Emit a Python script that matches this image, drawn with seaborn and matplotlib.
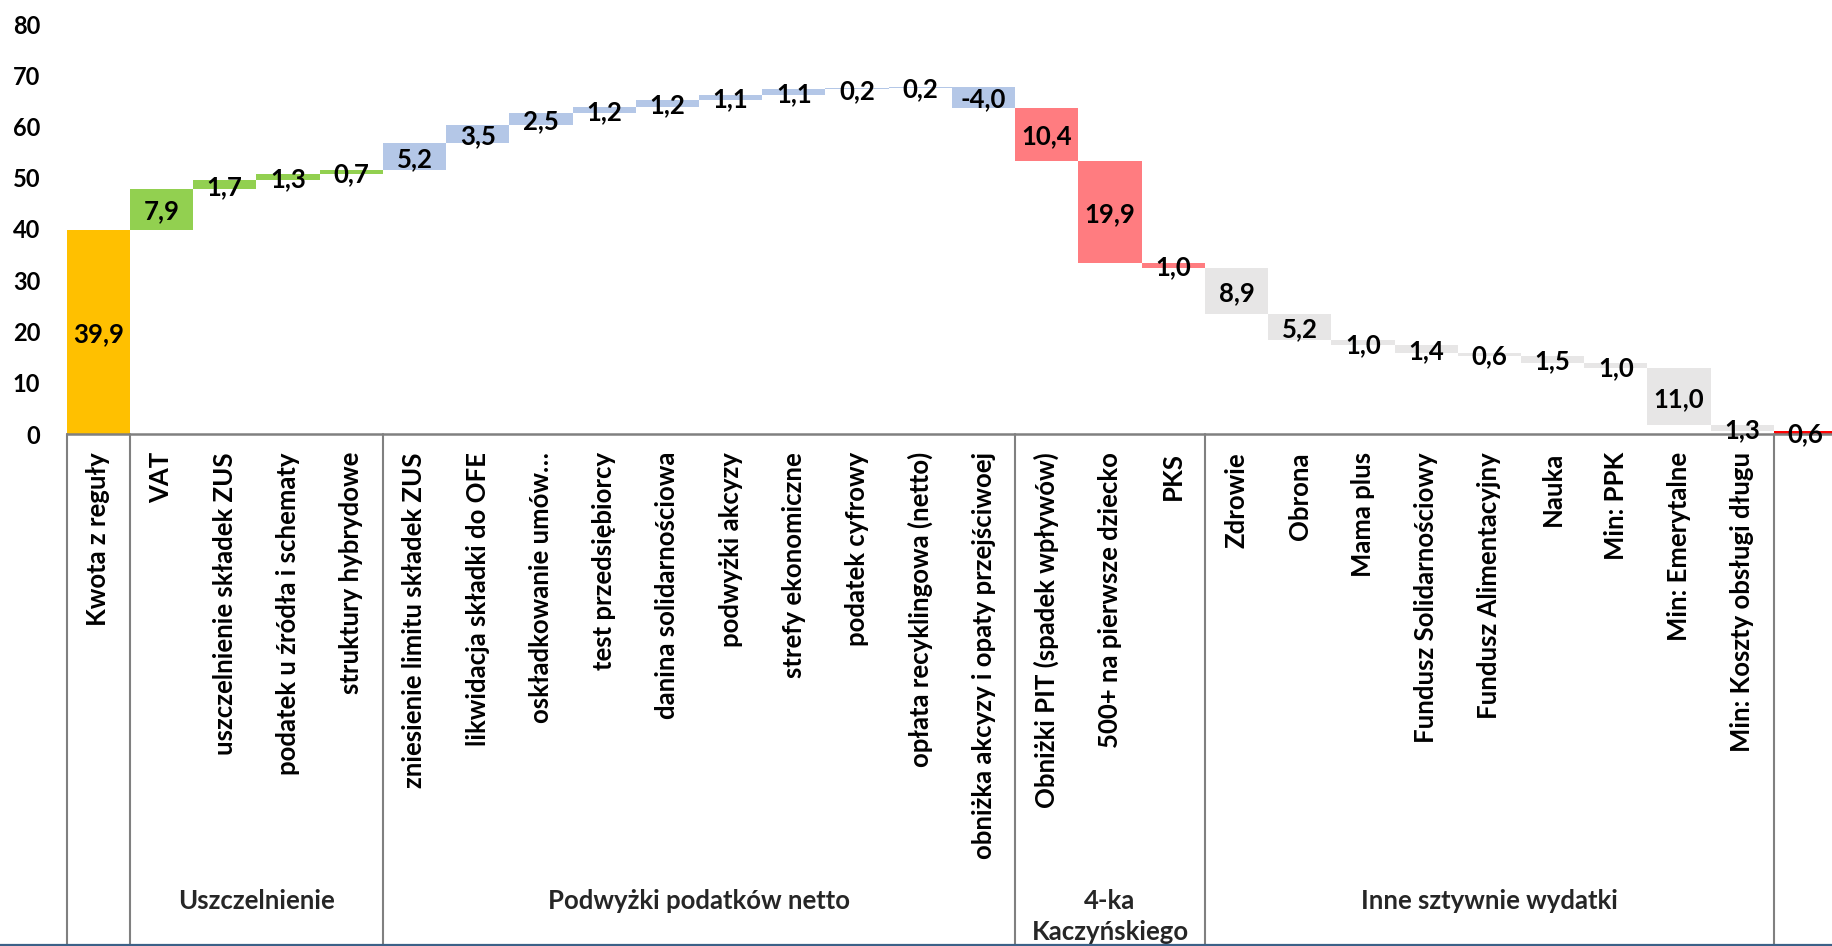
import numpy as np
import pandas as pd
import matplotlib
matplotlib.use("Agg")
import matplotlib.pyplot as plt
import matplotlib.transforms as mtransforms
from matplotlib.lines import Line2D
import seaborn as sns

# ---------------- data ----------------
categories = [
    "Kwota z reguły",
    "VAT", "uszczelnienie składek ZUS", "podatek u źródła i schematy", "struktury hybrydowe",
    "zniesienie limitu składek ZUS", "likwidacja składki do OFE", "oskładkowanie umów…",
    "test przedsiębiorcy", "danina solidarnościowa", "podwyżki akcyzy", "strefy ekonomiczne",
    "podatek cyfrowy", "opłata recyklingowa (netto)", "obniżka akcyzy i opaty przejściwoej",
    "Obniżki PIT (spadek wpływów)", "500+ na pierwsze dziecko", "PKS",
    "Zdrowie", "Obrona", "Mama plus", "Fundusz Solidarnościowy", "Fundusz Alimentacyjny",
    "Nauka", "Min: PPK", "Min: Emerytalne", "Min: Koszty obsługi długu",
    "",
]
values = [
    39.9,
    7.9, 1.7, 1.3, 0.7,
    5.2, 3.5, 2.5, 1.2, 1.2, 1.1, 1.1, 0.2, 0.2, -4.0,
    10.4, 19.9, 1.0,
    8.9, 5.2, 1.0, 1.4, 0.6, 1.5, 1.0, 11.0, 1.3,
    0.6,
]
group_names = ["", "Uszczelnienie", "Podwyżki podatków netto", "4-ka\nKaczyńskiego",
               "Inne sztywnie wydatki", ""]
group_sizes = [1, 4, 10, 3, 9, 1]
group_kinds = ["start", "add", "add", "sub", "sub", "total"]
group_colors = ["#FFC000", "#92D050", "#B4C7E7", "#FF7C80", "#E7E6E6", "#FF0000"]
y_ticks = [0, 10, 20, 30, 40, 50, 60, 70, 80]

# ---------------- waterfall geometry ----------------
kinds = np.repeat(group_kinds, group_sizes)
colors = list(np.repeat(group_colors, group_sizes))
bottoms, heights = [], []
running = 0.0
for v, k in zip(values, kinds):
    if k in ("start", "total"):
        lo, hi = 0.0, v
        running = v if k == "start" else running
    else:
        d = v if k == "add" else -v
        lo, hi = min(running, running + d), max(running, running + d)
        running += d
    bottoms.append(lo)
    heights.append(hi - lo)

df = pd.DataFrame({"pos": np.arange(len(categories)), "height": heights})

# ---------------- style ----------------
sns.set_theme(style="white")
plt.rcParams["font.family"] = ["Lato", "DejaVu Sans"]
plt.rcParams["font.weight"] = "bold"

W, H = 1832, 946
fig = plt.figure(figsize=(W / 100, H / 100), dpi=100)
fig.patch.set_facecolor("white")

ax_left = 66.7 / W
ax_w = 28 * 63.23 / W
ax_bottom = (H - 434) / H
ax_h = 410 / H
ax = fig.add_axes([ax_left, ax_bottom, ax_w, ax_h])
ax.set_facecolor("none")

sns.barplot(data=df, x="pos", y="height", ax=ax, width=1.0, errorbar=None,
            saturation=1, color=group_colors[0], bottom=bottoms, linewidth=0)
for patch, c in zip(ax.patches, colors):
    patch.set_facecolor(c)
    patch.set_edgecolor("none")

ax.set_xlim(-0.5, len(categories) - 0.5)
ax.set_ylim(0, 80)
ax.set_xlabel("")
ax.set_ylabel("")

for s in ["left", "top", "right"]:
    ax.spines[s].set_visible(False)
ax.spines["bottom"].set_color("#808080")
ax.spines["bottom"].set_linewidth(1.8)

ax.set_yticks(y_ticks)
ax.set_yticklabels([str(t) for t in y_ticks], fontsize=17, fontweight="bold")
ax.tick_params(axis="y", length=0, pad=19, colors="black")

ax.set_xticks(np.arange(len(categories)))
ax.set_xticklabels(categories, rotation=90, ha="center", va="top",
                   fontsize=18.5, fontweight="bold")
ax.tick_params(axis="x", length=0, pad=13, colors="black")

# data labels
for i, (v, b, h) in enumerate(zip(values, bottoms, heights)):
    txt = f"{v:.1f}".replace(".", ",")
    ax.annotate(txt, (i, b + h / 2), xytext=(0, -1.5), textcoords="offset points",
                ha="center", va="center", fontsize=18.5, fontweight="bold",
                color="black", zorder=5, annotation_clip=False)

# group separators and group labels
edges = np.concatenate([[0], np.cumsum(group_sizes)]) - 0.5
bl = mtransforms.blended_transform_factory(ax.transData, ax.transAxes)
y_bottom_axes = -(H - 434) / 410
for e in edges[:-1]:
    ax.plot([e, e], [0, y_bottom_axes], transform=bl, color="#808080",
            lw=1.5, clip_on=False, zorder=3)

blf = mtransforms.blended_transform_factory(ax.transData, fig.transFigure)
for name, lo, hi in zip(group_names, edges[:-1], edges[1:]):
    for j, line in enumerate(name.split("\n") if name else []):
        ax.text((lo + hi) / 2, 1 - (909 + 31 * j) / H, line, transform=blf,
                ha="center", va="baseline", fontsize=18.5, fontweight="bold",
                clip_on=False)

# bottom frame line
fig.add_artist(Line2D([0, 1], [1 - 945 / H, 1 - 945 / H], transform=fig.transFigure,
                      color="#3B6188", lw=1.6))

fig.savefig("out.png", dpi=100, facecolor="white")
